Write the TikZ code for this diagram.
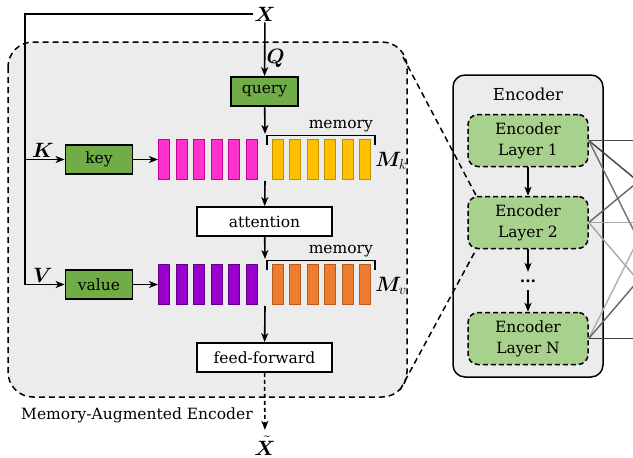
\documentclass[tikz,border=0pt]{standalone}
\usepackage{fontspec}
\setmainfont{DejaVu Serif}
\usepackage{bm}
\usetikzlibrary{arrows.meta,calc,positioning}
\definecolor{boxgreen}{HTML}{70AD47}
\definecolor{layergreen}{HTML}{A9D18E}
\definecolor{panelgray}{HTML}{ECECEC}
\definecolor{kfill}{HTML}{FF33CC}
\definecolor{kdraw}{HTML}{C8009A}
\definecolor{mkfill}{HTML}{FFC000}
\definecolor{mkdraw}{HTML}{BF9000}
\definecolor{vfill}{HTML}{9900CC}
\definecolor{vdraw}{HTML}{62008A}
\definecolor{mvfill}{HTML}{ED7D31}
\definecolor{mvdraw}{HTML}{B85A1F}
\newcommand\txtsize{\fontsize{15.5}{21}\selectfont}
\newcommand\mathsize{\fontsize{19.5}{22}\selectfont}
\tikzset{
  arr/.style={line width=1.6pt,-{Stealth[length=9pt,width=7pt,inset=2.5pt]}},
  opbox/.style={draw,line width=1.8pt,fill=boxgreen,minimum width=67pt,minimum height=29pt,inner sep=0pt},
  wbox/.style={draw,line width=1.8pt,fill=white,minimum width=135pt,minimum height=29pt,inner sep=0pt},
  bar/.style={draw,line width=1.1pt,minimum width=11pt,minimum height=40pt,inner sep=0pt},
  layer/.style={draw,line width=1.5pt,dash pattern=on 5pt off 3pt,fill=layergreen,rounded corners=10pt,
    minimum width=120pt,minimum height=52pt,align=center,inner sep=0pt},
  mlabel/.style={font=\mathsize,inner sep=1pt},
}

\begin{document}
\begin{tikzpicture}[x=1pt,y=-1pt,every node/.style={font=\txtsize}]
\useasboundingbox (0,0) rectangle (633,458);

% memory-augmented encoder panel
\draw[line width=1.5pt,dash pattern=on 6pt off 4pt,fill=panelgray,rounded corners=25pt] (8,42) rectangle (407,397);
\node[anchor=west,inner sep=0pt] (mtitle) at (21,415) {Memory-Augmented Encoder};

\node[mlabel] (x) at (265,14) {$\bm{X}$};
\node[opbox] (query) at (264.5,91.5) {query};
\node[opbox] (key) at (99,159.5) {key};
\node[opbox] (value) at (99,284.5) {value};
\node[wbox] (attention) at (264.5,221.5) {attention};
\node[wbox] (ff) at (264.5,357.5) {feed-forward};
\node[mlabel,anchor=base] (xt) at (265,455) {$\tilde{\bm{X}}$};

\foreach \i in {1,...,6}{
  \node[bar,fill=kfill,draw=kdraw] (k\i) at ({146.4+17.6*\i},159.5) {};
  \node[bar,fill=mkfill,draw=mkdraw] (mk\i) at ({260.6+17.4*\i},159.5) {};
  \node[bar,fill=vfill,draw=vdraw] (v\i) at ({146.4+17.6*\i},284.5) {};
  \node[bar,fill=mvfill,draw=mvdraw] (mv\i) at ({260.6+17.4*\i},284.5) {};
}

% memory brackets
\draw[line width=1.6pt] ($(mk1.north west)+(-5,6.5)$) |- ($(mk6.north east)+(4,-3.5)$) -- ++(0,10);
\draw[line width=1.6pt] ($(mv1.north west)+(-5,6.5)$) |- ($(mv6.north east)+(4,-3.5)$) -- ++(0,10);
\node[anchor=south east,inner sep=1pt] (memk) at ($(mk6.north east)+(3,-6)$) {memory};
\node[anchor=south east,inner sep=1pt] (memv) at ($(mv6.north east)+(3,-6)$) {memory};
\node[mlabel,anchor=west] (mklabel) at ($(mk6.east)+(3,1)$) {$\bm{M}_k$};
\node[mlabel,anchor=west] (mvlabel) at ($(mv6.east)+(3,1)$) {$\bm{M}_v$};

\coordinate (ktop) at (265,134);
\coordinate (kbot) at (265,181);
\coordinate (vtop) at (265,259);
\coordinate (vbot) at (265,306);
\coordinate (kin) at (25,159.5);
\coordinate (vin) at (25,284.5);

\draw[line width=1.6pt] (x.west) -| (vin);
\draw[arr] (kin) -- node[mlabel,above,pos=0.45] {$\bm{K}$} (key);
\draw[arr] (vin) -- node[mlabel,above,pos=0.45] {$\bm{V}$} (value);
\draw[arr] (x) -- node[mlabel,right,pos=0.68] {$\bm{Q}$} (query);
\draw[arr] (key) -- (k1);
\draw[arr] (value) -- (v1);
\draw[arr] (query) -- (ktop);
\draw[arr] (kbot) -- (attention);
\draw[arr] (attention) -- (vtop);
\draw[arr] (vbot) -- (ff);
\draw[arr,dash pattern=on 4pt off 3pt,shorten >=5pt] (ff) -- (xt);

% encoder stack
\node[draw,line width=1.5pt,fill=panelgray,rounded corners=12pt,minimum width=150pt,minimum height=302pt] (enc) at (528,226) {};
\node[font=\fontsize{16.5}{20}\selectfont] (enctitle) at (528,94) {Encoder};
\node[layer] (l1) at (528,140.5) {Encoder\\Layer 1};
\node[layer] (l2) at (528,222.5) {Encoder\\Layer 2};
\node[layer] (ln) at (528,338.5) {Encoder\\Layer N};
\node[inner sep=0pt,minimum height=18pt] (dots) at (528,281) {\textbf{...}};
\draw[arr] (l1) -- (l2);
\draw[arr] (l2) -- (dots);
\draw[arr] (dots) -- (ln);

\coordinate (d1) at ($(l1.east)+(99,0)$);
\coordinate (d2) at ($(l2.east)+(99,0)$);
\coordinate (dn) at ($(ln.east)+(99,0)$);
\begin{scope}
\clip (0,0) rectangle (633,458);
\foreach \s/\t/\c in {l1/d1/black!70,l1/d2/black!75,l1/dn/black!55,l2/d1/black!60,l2/d2/black!35,
  l2/dn/black!35,ln/d1/black!30,ln/d2/black!60,ln/dn/black!75}
  \draw[color=\c,line width=1.4pt] (\s.east) -- (\t);
\end{scope}

% zoom lines
\coordinate (boxne) at (403,57);
\coordinate (boxse) at (400,390);
\draw[line width=1.5pt,dash pattern=on 6pt off 4pt] (boxne) -- ($(l2.north west)+(9,0)$);
\draw[line width=1.5pt,dash pattern=on 6pt off 4pt] (boxse) -- ($(l2.south west)+(9,0)$);
\end{tikzpicture}
\end{document}
